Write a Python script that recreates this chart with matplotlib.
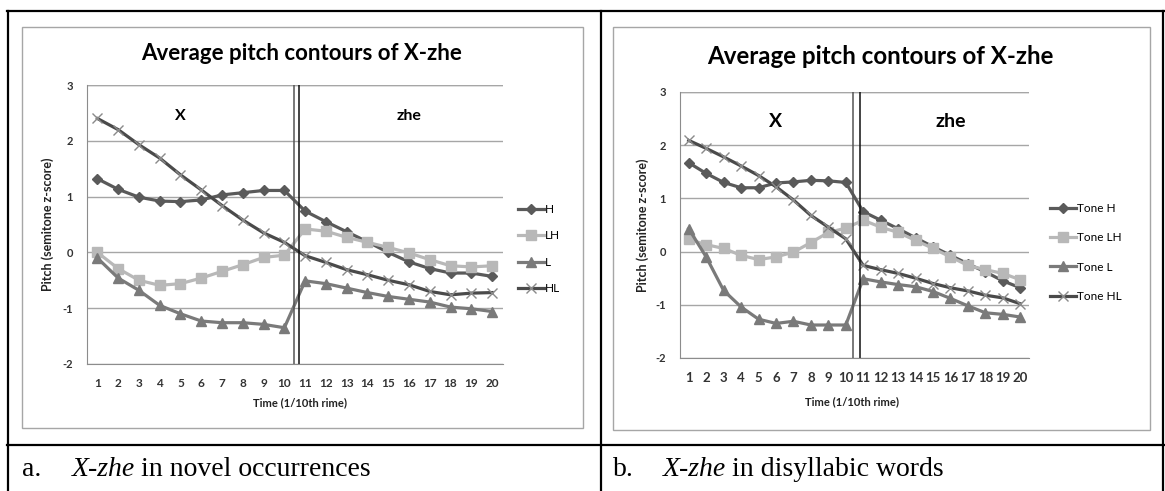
import matplotlib
matplotlib.use("Agg")
from matplotlib import pyplot as plt
from matplotlib.lines import Line2D
from matplotlib.patches import Rectangle

plt.rcParams['font.family'] = ['Lato', 'DejaVu Sans']
plt.rcParams['axes.unicode_minus'] = False

# 数据
time = list(range(1, 21))
tick_labels = [str(t) for t in time]

a_H = [1.32, 1.13, 0.99, 0.92, 0.91, 0.94, 1.03, 1.07, 1.11, 1.11,
       0.74, 0.55, 0.37, 0.19, 0.0, -0.17, -0.29, -0.37, -0.37, -0.43]
a_LH = [0.0, -0.29, -0.5, -0.59, -0.56, -0.46, -0.34, -0.22, -0.09, -0.05,
        0.42, 0.38, 0.27, 0.18, 0.09, -0.01, -0.13, -0.24, -0.26, -0.24]
a_L = [-0.1, -0.46, -0.68, -0.95, -1.1, -1.23, -1.26, -1.26, -1.29, -1.35,
       -0.51, -0.56, -0.64, -0.72, -0.79, -0.84, -0.89, -0.98, -1.01, -1.06]
a_HL = [2.4, 2.2, 1.93, 1.69, 1.39, 1.12, 0.84, 0.58, 0.35, 0.18,
        -0.06, -0.18, -0.31, -0.4, -0.5, -0.58, -0.7, -0.76, -0.73, -0.72]

b_H = [1.67, 1.47, 1.3, 1.2, 1.2, 1.29, 1.31, 1.34, 1.33, 1.3,
       0.75, 0.59, 0.43, 0.26, 0.09, -0.07, -0.23, -0.38, -0.55, -0.68]
b_LH = [0.23, 0.13, 0.06, -0.07, -0.15, -0.1, -0.01, 0.17, 0.36, 0.44,
        0.59, 0.46, 0.36, 0.21, 0.06, -0.1, -0.26, -0.34, -0.41, -0.53]
b_L = [0.43, -0.1, -0.73, -1.04, -1.27, -1.35, -1.31, -1.38, -1.38, -1.38,
       -0.51, -0.57, -0.62, -0.66, -0.75, -0.88, -1.02, -1.15, -1.18, -1.23]
b_HL = [2.09, 1.94, 1.78, 1.61, 1.43, 1.22, 0.97, 0.68, 0.46, 0.24,
        -0.26, -0.34, -0.41, -0.5, -0.6, -0.68, -0.74, -0.82, -0.87, -0.98]

a_names = ["H", "LH", "L", "HL"]
b_names = ["Tone H", "Tone LH", "Tone L", "Tone HL"]

W, H = 1165, 491
fig = plt.figure(figsize=(W / 100, H / 100), dpi=100)
renderer = fig.canvas.get_renderer()


def fx(x):
    return x / W


def fy(y):
    return 1 - y / H


def hline(x0, x1, y, **kw):
    fig.add_artist(Line2D([fx(x0), fx(x1)], [fy(y), fy(y)], transform=fig.transFigure, **kw))


def vline(x, y0, y1, **kw):
    fig.add_artist(Line2D([fx(x), fx(x)], [fy(y0), fy(y1)], transform=fig.transFigure, **kw))


# 表格边框
tbl = dict(color="black", lw=1.6)
hline(7, 1164, 11, **tbl)
hline(7, 1164, 445, **tbl)
vline(8, 11, 491, **tbl)
vline(601, 11, 491, **tbl)
vline(1163, 11, 491, **tbl)

# 图表外框
for (x0, y0, x1, y1) in [(22, 27, 583, 428), (613, 27, 1150, 430)]:
    fig.add_artist(Rectangle((fx(x0), fy(y1)), fx(x1) - fx(x0), fy(y0) - fy(y1),
                             transform=fig.transFigure, fill=False, ec="#a6a6a6", lw=1.0))

styles = [
    dict(color="#5a5a5a", marker="D", ms=5.5, mfc="#5a5a5a", mec="#5a5a5a"),
    dict(color="#b8b8b8", marker="s", ms=7.5, mfc="#b8b8b8", mec="#b8b8b8"),
    dict(color="#7a7a7a", marker="^", ms=7.5, mfc="#7a7a7a", mec="#7a7a7a"),
    dict(color="#4a4a4a", marker="x", ms=7.5, mfc="#8a8a8a", mec="#8a8a8a", mew=1.0),
]


def caption_text(x, y, parts, size=20):
    # 逐段放置：正体 / 斜体 / 正体
    fig.text(fx(x), fy(y), parts[0], ha="left", va="center", fontsize=size,
             family="Liberation Serif")
    t = fig.text(fx(x + 50), fy(y), parts[1], ha="left", va="center", fontsize=size,
                 family="Liberation Serif", style="italic")
    bb = t.get_window_extent(renderer)
    fig.text(bb.x1 / W + 6 / W, fy(y), parts[2], ha="left", va="center", fontsize=size,
             family="Liberation Serif")


def panel(box, series, names, title, title_xy, title_size, xlab_xy, ylab_x, tick_size,
          lines_x, x_lbl, zhe_lbl, seg_size, leg_xy, leg_space, caption, cap_xy):
    left, right, top, bottom = box
    ax = fig.add_axes([fx(left), fy(bottom), fx(right) - fx(left), fy(top) - fy(bottom)])
    for vals, name, st in zip(series, names, styles):
        ax.plot(time, vals, lw=2.3, label=name, **st)
    ax.set_xlim(0.5, 20.5)
    ax.set_ylim(-2, 3)
    ax.set_yticks(range(-2, 4))
    ax.set_xticks(time)
    ax.set_xticklabels(tick_labels)
    ax.tick_params(length=0, labelsize=tick_size, colors="#333333")
    ax.tick_params(axis="x", pad=10)
    ax.tick_params(axis="y", pad=10, labelsize=8)
    for lab in ax.get_xticklabels() + ax.get_yticklabels():
        lab.set_fontweight("bold")
    ax.grid(axis="y", color="#a6a6a6", lw=1.0)
    ax.set_axisbelow(True)
    ax.spines["right"].set_visible(False)
    ax.spines["top"].set_visible(False)
    ax.spines["left"].set_color("#8c8c8c")
    ax.spines["bottom"].set_color("#8c8c8c")
    ax.axhline(3, color="#a6a6a6", lw=1.0, zorder=0)
    ax.axvline(lines_x[0], color="#555555", lw=1.1)
    ax.axvline(lines_x[1], color="#111111", lw=1.1)
    ax.text(x_lbl, 2.45, "X", ha="center", va="center", fontsize=seg_size, fontweight="bold")
    ax.text(zhe_lbl, 2.45, "zhe", ha="center", va="center", fontsize=seg_size, fontweight="bold")

    fig.text(fx(title_xy[0]), fy(title_xy[1]), title, ha="center", va="center",
             fontsize=title_size, fontweight="bold")
    fig.text(fx(xlab_xy[0]), fy(xlab_xy[1]), "Time (1/10th rime)", ha="center", va="center",
             fontsize=8, fontweight="bold", color="#222222")
    fig.text(fx(ylab_x), fy((top + bottom) / 2), "Pitch (semitone z-score)", ha="center",
             va="center", rotation=90, fontsize=9, fontweight="bold", color="#222222")
    ax.legend(loc="upper left", bbox_to_anchor=(fx(leg_xy[0]), fy(leg_xy[1])),
              bbox_transform=fig.transFigure, frameon=False, fontsize=8.5,
              handlelength=2.2, handletextpad=0.1, labelspacing=leg_space,
              borderaxespad=0, borderpad=0)
    caption_text(cap_xy[0], cap_xy[1], caption)
    return ax


panel((87, 502.5, 85, 364), [a_H, a_LH, a_L, a_HL], a_names,
      "Average pitch contours of X-zhe", (302, 53), 16, (300, 403), 48, 8.5,
      (10.45, 10.72), 5.0, 16.0, 11.5, (518, 204), 1.3,
      ("a.", "X-zhe", "in novel occurrences"), (22, 469))

panel((680, 1029, 92, 358), [b_H, b_LH, b_L, b_HL], b_names,
      "Average pitch contours of X-zhe", (880, 57), 17.4, (852, 402), 643, 9.5,
      (10.4, 10.84), 6.0, 16.0, 14, (1050, 203), 1.55,
      ("b.", "X-zhe", "in disyllabic words"), (613, 469))

plt.savefig("out.png", dpi=100)
